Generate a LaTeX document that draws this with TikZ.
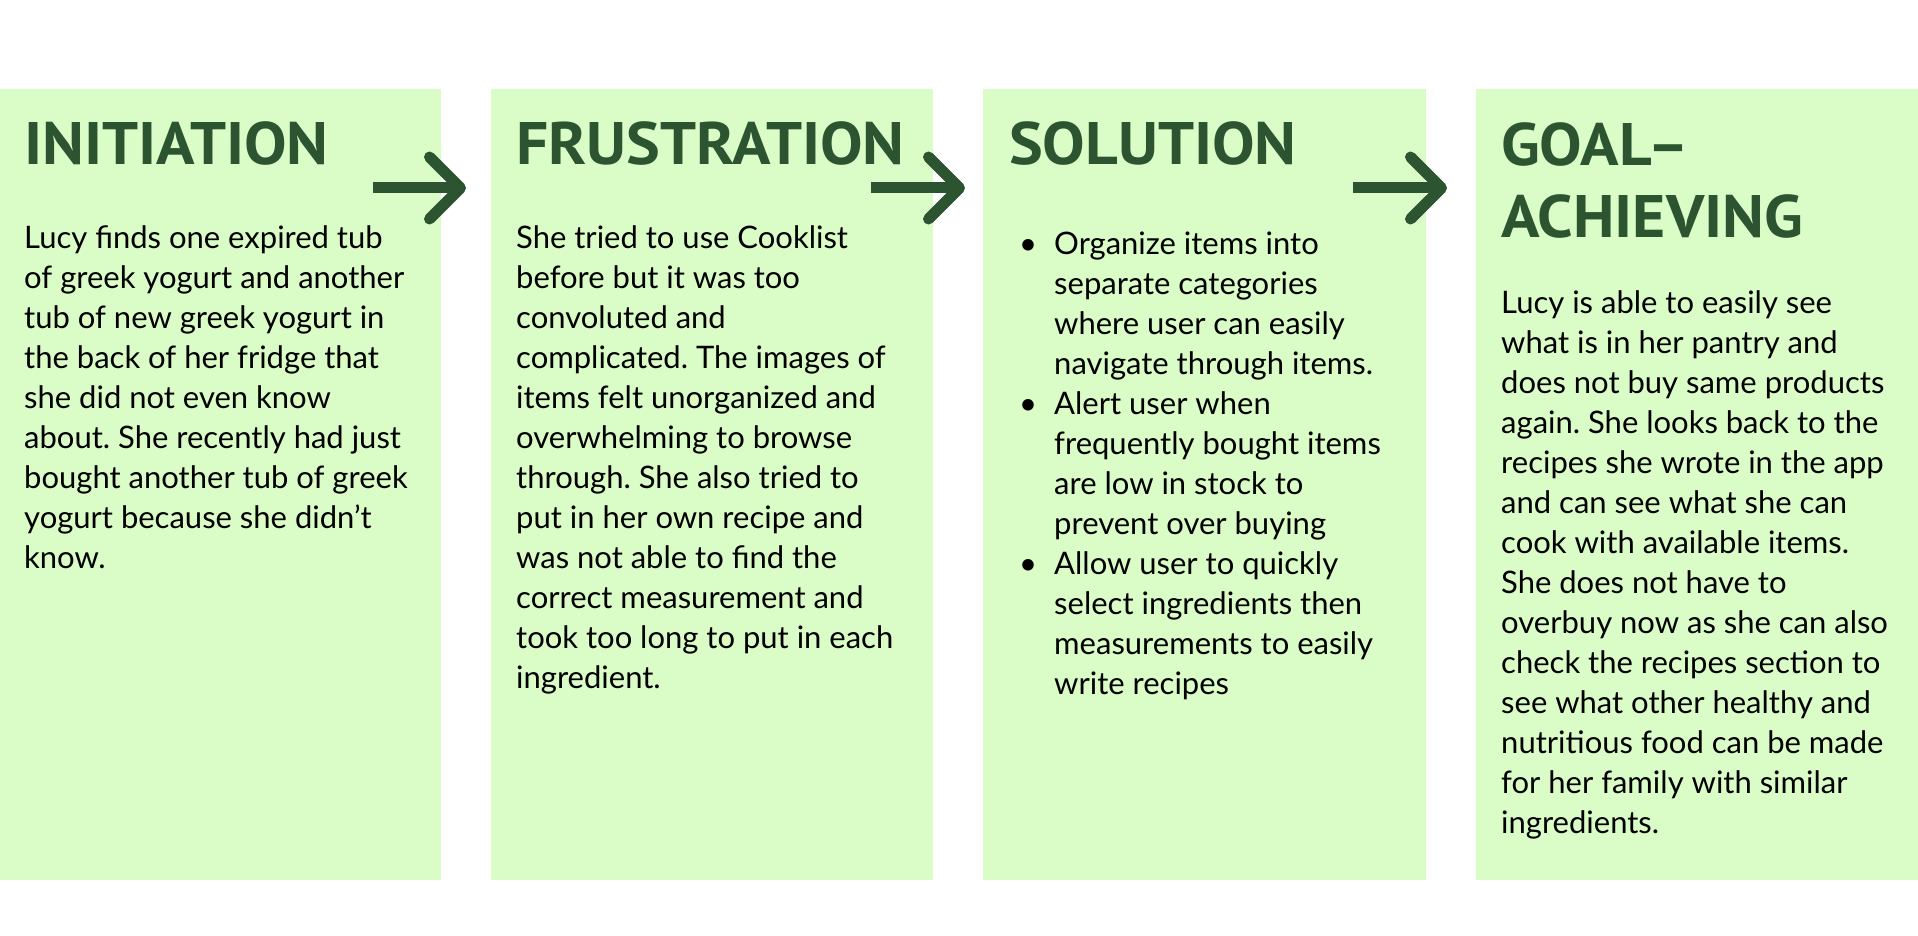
\documentclass[tikz,border=0pt]{standalone}
\usepackage{fontspec}
\setmainfont{Lato}
\newfontfamily\headfont[FakeStretch=1.06]{PT Sans}
\usetikzlibrary{positioning,arrows.meta}
\definecolor{panelgreen}{RGB}{218,252,198}
\definecolor{darkgreen}{RGB}{44,84,48}
\frenchspacing

\begin{document}
\begin{tikzpicture}[x=1pt, y=-1pt,
  panel/.style={fill=panelgreen},
  hd/.style={anchor=base west, inner sep=0, text=darkgreen, align=left,
    font=\headfont\bfseries\fontsize{60}{72}\selectfont},
  body/.style={anchor=base west, inner sep=0, align=left,
    font=\fontsize{31}{40}\selectfont},
  flow/.style={draw=darkgreen, line width=11pt,
    -{Straight Barb[length=31pt, width=62pt, round]}},
]
\useasboundingbox (0,0) rectangle (1918,936);
% four stages
\fill[panel] (0,89) rectangle (441,880);
\fill[panel] (491,89) rectangle (933,880);
\fill[panel] (983,89) rectangle (1426,880);
\fill[panel] (1476,89) rectangle (1918,880);

% nodes sit on the baseline of their last line
\node[hd] (initT) at (24,165) {INITIATION};
\node[hd] (frusT) at (516,165) {FRUSTRATION};
\node[hd] (soluT) at (1009,165) {SOLUTION};
\node[hd] (goalT) at (1501,237) {GOAL–\\ACHIEVING};

\node[body] (initB) at (24,568) {Lucy finds one expired tub\\
of greek yogurt and another\\tub of new greek yogurt in\\
the back of her fridge that\\she did not even know\\
about. She recently had just\\bought another tub of greek\\
yogurt because she didn’t\\know.};
\node[body] (frusB) at (516,688) {She tried to use Cooklist\\
before but it was too\\convoluted and\\complicated. The images of\\
items felt unorganized and\\overwhelming to browse\\
through. She also tried to\\put in her own recipe and\\
was not able to find the\\correct measurement and\\
took too long to put in each\\ingredient.};
\node[body] (soluB) at (1054,694) {\llap{\textbullet\hspace{17pt}}Organize items into\\
separate categories\\where user can easily\\navigate through items.\\
\llap{\textbullet\hspace{17pt}}Alert user when\\frequently bought items\\
are low in stock to\\prevent over buying\\
\llap{\textbullet\hspace{17pt}}Allow user to quickly\\select ingredients then\\
measurements to easily\\write recipes};
\node[body] (goalB) at (1501,833) {Lucy is able to easily see\\
what is in her pantry and\\does not buy same products\\
again. She looks back to the\\recipes she wrote in the app\\
and can see what she can\\cook with available items.\\
She does not have to\\overbuy now as she can also\\
check the recipes section to\\see what other healthy and\\
nutritious food can be made\\for her family with similar\\ingredients.};

% arrows between stages
\coordinate (a1) at (373,188); \coordinate (b1) at (466,188);
\coordinate (a2) at (871,188); \coordinate (b2) at (965,188);
\coordinate (a3) at (1353,188); \coordinate (b3) at (1447,188);
\draw[flow] (a1) -- (b1);
\draw[flow] (a2) -- (b2);
\draw[flow] (a3) -- (b3);
\end{tikzpicture}
\end{document}
